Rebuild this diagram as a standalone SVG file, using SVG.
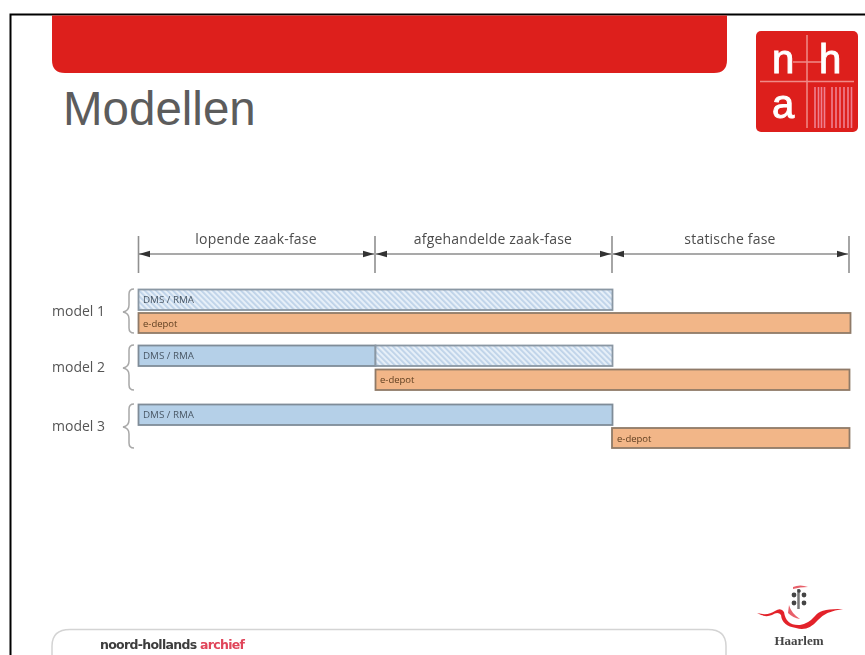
<svg xmlns="http://www.w3.org/2000/svg" width="865" height="655" viewBox="0 0 865 655">
<style>
.s{font-family:"Open Sans","Liberation Sans",sans-serif}
.ph{font-size:14px;fill:#4c4c4c;text-anchor:middle;letter-spacing:.2px}
.m{font-size:14px;fill:#555}
.b{font-size:9.800px;fill:#4a5866}
.e{font-size:9.500px;fill:#5f3f20}
.blue{fill:#b5d0e8;stroke:#7f8c98;stroke-width:1.800}
.hat{fill:url(#hatch);stroke:#8a97a3;stroke-width:1.800}
.or{fill:#f2b688;stroke:#8f7a68;stroke-width:1.800}
.tick{stroke:#909090;stroke-width:1.600;fill:none}
.dim{stroke:#8c8c8c;stroke-width:1.600;fill:none;marker-start:url(#as);marker-end:url(#ae)}
.br{stroke:#a8a8a8;stroke-width:1.500;fill:none}
</style>
<defs>
<pattern id="hatch" width="4" height="4" patternUnits="userSpaceOnUse" patternTransform="rotate(-45)">
<rect width="4" height="4" fill="#e6eff8"/>
<rect width="1.800" height="4" fill="#bdd2e8"/>
</pattern>
<marker id="ae" markerUnits="userSpaceOnUse" markerWidth="12" markerHeight="8" refX="11" refY="4" orient="auto"><path d="M0 .8L11 4L0 7.2z" fill="#333"/></marker>
<marker id="as" markerUnits="userSpaceOnUse" markerWidth="12" markerHeight="8" refX="1" refY="4" orient="auto"><path d="M12 .8L1 4L12 7.2z" fill="#333"/></marker>
<filter id="soft" x="-5%" y="-5%" width="110%" height="110%"><feGaussianBlur stdDeviation="0.9"/></filter>
<filter id="soft2" x="-5%" y="-20%" width="110%" height="140%"><feGaussianBlur stdDeviation="0.65"/></filter>
</defs>
<rect width="865" height="655" fill="#fff"/>
<path d="M10.500 655V14.500H865" fill="none" stroke="#000" stroke-width="2"/>

<g id="header">
<path d="M52 15.500H727V60Q727 73 714 73H65Q52 73 52 60z" fill="#dd1f1c"/>
<text x="63" y="125" font-size="47.500" fill="#5c5c5c" style="font-family:'Liberation Sans',sans-serif">Modellen</text>
</g>

<g id="logo">
<rect x="756" y="31" width="102" height="101" rx="5" fill="#dd1f1c"/>
<g filter="url(#soft2)">
<path d="M807 35V128M760 81.500H854M793 62H822" stroke="#f08a88" stroke-width="1.500" fill="none"/>
<g stroke="#ee8090" stroke-width="1.600">
<path d="M815 87V128M818.500 87V128M821.500 87V128M824.500 87V128M832 87V128M836 87V128M840 87V128M844 87V128M848 87V128M851.500 87V128"/>
</g>
<text x="783" y="73" font-size="40" fill="#fff" stroke="#fff" stroke-width="1" text-anchor="middle" style="font-family:'Liberation Sans',sans-serif">n</text>
<text x="830" y="73" font-size="40" fill="#fff" stroke="#fff" stroke-width="1" text-anchor="middle" style="font-family:'Liberation Sans',sans-serif">h</text>
<text x="783" y="118" font-size="40" fill="#fff" stroke="#fff" stroke-width="1" text-anchor="middle" style="font-family:'Liberation Sans',sans-serif">a</text>
</g>
</g>

<g id="connectors" filter="url(#soft2)">
<path class="tick" d="M138.500 236V273M375 236V273M612 236V273M849 236V273"/>
<path class="dim" d="M139 254H374"/>
<path class="dim" d="M376 254H611"/>
<path class="dim" d="M613 254H848"/>
<path class="br" d="M134 289Q129 289 129 294V305Q129 311 123 312Q129 313 129 319V328Q129 333 134 333"/>
<path class="br" d="M134 345Q129 345 129 350V361Q129 367 123 368Q129 369 129 375V385Q129 390 134 390"/>
<path class="br" d="M134 404Q129 404 129 409V420Q129 426 123 427Q129 428 129 434V443Q129 448 134 448"/>
</g>

<g id="phases" filter="url(#soft2)">
<text class="s ph" x="256" y="244">lopende zaak-fase</text>
<text class="s ph" x="493" y="244">afgehandelde zaak-fase</text>
<text class="s ph" x="730" y="244">statische fase</text>
</g>

<g id="model1" filter="url(#soft2)">
<text class="s m" x="52" y="316">model 1</text>
<rect class="hat" x="138.500" y="289.500" width="474" height="20.500"/>
<text class="s b" x="143" y="302.500">DMS / RMA</text>
<rect class="or" x="138.500" y="313" width="712" height="20"/>
<text class="s e" x="143" y="326.500">e-depot</text>
</g>

<g id="model2" filter="url(#soft2)">
<text class="s m" x="52" y="372">model 2</text>
<rect class="blue" x="138.500" y="345.500" width="237" height="20.500"/>
<text class="s b" x="143" y="359">DMS / RMA</text>
<rect class="hat" x="375.500" y="345.500" width="237" height="20.500"/>
<rect class="or" x="375.500" y="369.500" width="474" height="20.500"/>
<text class="s e" x="380" y="383">e-depot</text>
</g>

<g id="model3" filter="url(#soft2)">
<text class="s m" x="52" y="431">model 3</text>
<rect class="blue" x="138.500" y="404.500" width="474" height="20.500"/>
<text class="s b" x="143" y="418">DMS / RMA</text>
<rect class="or" x="612" y="428" width="237.500" height="20"/>
<text class="s e" x="617" y="441.500">e-depot</text>
</g>

<g id="footer" filter="url(#soft2)">
<path d="M52 655V646Q52 629.500 70 629.500H708Q726 629.500 726 646V655" fill="none" stroke="#d4d4d4" stroke-width="1.500"/>
<text x="100" y="649" font-size="12.500" font-weight="bold" fill="#3c3c3c" style="font-family:'DejaVu Sans',sans-serif" textLength="145">noord-hollands <tspan fill="#e0455a">archief</tspan></text>
</g>

<g id="haarlem">
<g filter="url(#soft2)">
<path d="M757 613Q768 616 775 611Q781 607 784 612Q786 626 800 625Q808 624 815 616Q820 608 843 609Q826 611 818 620Q808 632 796 628Q782 626 781 615Q778 611 772 615Q765 618 757 613z" fill="#e3242b"/>
<path d="M789 605Q791 613 800 619Q793 618 788 613z M793 587Q800 584 808 587Q800 587 793 589z" fill="#e8606a"/>
<path d="M798.500 589V609" stroke="#777" stroke-width="2.500"/>
<g fill="#444"><circle cx="794" cy="595" r="2.400"/><circle cx="804" cy="595" r="2.400"/><circle cx="794" cy="603" r="2.400"/><circle cx="804" cy="603" r="2.400"/><circle cx="799" cy="591" r="1.800"/></g>
</g>
<text x="799" y="645" font-size="13" fill="#444" text-anchor="middle" filter="url(#soft2)" style="font-family:'Liberation Serif',serif" font-weight="bold">Haarlem</text>
</g>
</svg>
